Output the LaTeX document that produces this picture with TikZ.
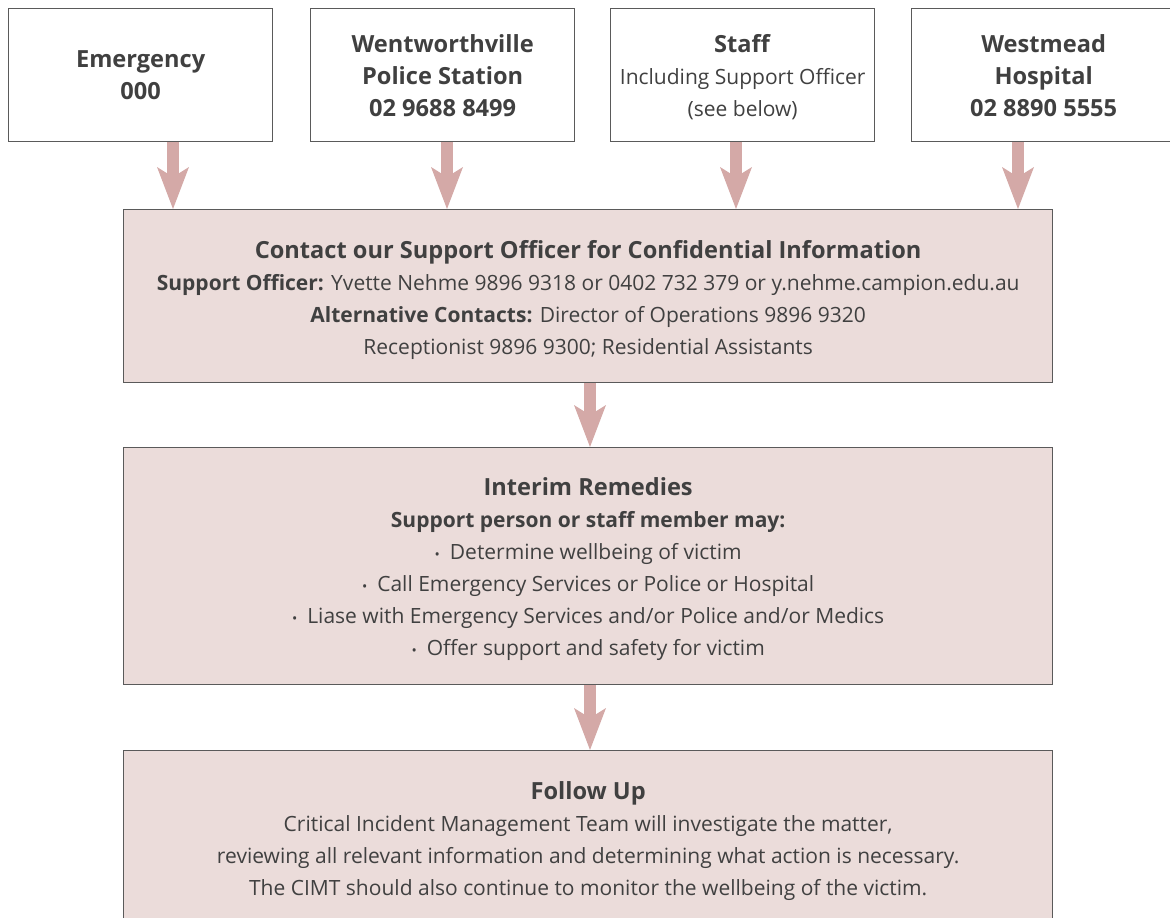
\documentclass[tikz,border=0pt]{standalone}
\usepackage{fontspec}
\setmainfont{Open Sans}
\usetikzlibrary{arrows.meta,calc}
\definecolor{txt}{HTML}{404040}
\definecolor{bordc}{HTML}{5A5A5A}
\definecolor{fillc}{HTML}{EBDCDA}
\definecolor{arrc}{HTML}{D4A9A7}
\newcommand{\ttl}[2]{\rule{0pt}{#1}{\fontsize{23.6}{33}\selectfont\bfseries #2}}
\newcommand{\bul}{{\fontsize{14}{32}\selectfont\textbullet}\hspace{10pt}}
\begin{document}
\begin{tikzpicture}[x=1pt,y=-1pt,
  base/.style={draw=bordc, line width=1.3pt, inner sep=0pt, align=center, text=txt,
    anchor=north west, font=\fontsize{21}{32}\selectfont},
  topbox/.style={base, fill=white, minimum width=264pt, minimum height=133pt,
    font=\fontsize{23.6}{32}\selectfont},
  bigbox/.style={base, fill=fillc, minimum width=929pt},
  arr/.style={draw=arrc, line width=12pt,
    -{Stealth[length=42pt,width=32pt,inset=10pt,line width=0pt]}}]
\useasboundingbox (0,0) rectangle (1170,918);
\clip (0,0) rectangle (1170,918);
\node[topbox] (emg) at (8,8) {\textbf{Emergency}\\\textbf{000}};
\node[topbox] (pol) at (310,8) {\textbf{Wentworthville}\\\textbf{Police Station}\\\textbf{02 9688 8499}};
\node[topbox] (stf) at (610,8) {\rule{0pt}{22pt}\textbf{Staff}\\{\fontsize{21}{32}\selectfont Including Support Officer}\\{\fontsize{21}{32}\selectfont (see below)}};
\node[topbox] (hos) at (911,8) {\textbf{Westmead}\\\textbf{Hospital}\\\textbf{02 8890 5555}};
\node[bigbox, minimum height=173pt] (con) at (123,209) {\ttl{25pt}{Contact our Support Officer for Confidential Information}\\
  \textbf{Support Officer:} Yvette Nehme 9896 9318 or 0402 732 379 or y.nehme.campion.edu.au\\
  \textbf{Alternative Contacts:} Director of Operations 9896 9320\\
  Receptionist 9896 9300; Residential Assistants};
\node[bigbox, minimum height=237pt] (int) at (123,447) {\ttl{24pt}{Interim Remedies}\\
  \textbf{Support person or staff member may:}\\
  \bul Determine wellbeing of victim\\
  \bul Call Emergency Services or Police or Hospital\\
  \bul Liase with Emergency Services and/or Police and/or Medics\\
  \bul Offer support and safety for victim};
\node[bigbox, minimum height=177pt] (fol) at (123,750) {\ttl{21pt}{Follow Up}\\
  Critical Incident Management Team will investigate the matter,\\
  reviewing all relevant information and determining what action is necessary.\\
  The CIMT should also continue to monitor the wellbeing of the victim.};
\coordinate (a1) at (173,0);
\coordinate (a2) at (447,0);
\coordinate (a3) at (736,0);
\coordinate (a4) at (1018,0);
\coordinate (a5) at (590,0);
\draw[arr] (emg.south -| a1) -- (con.north -| a1);
\draw[arr] (pol.south -| a2) -- (con.north -| a2);
\draw[arr] (stf.south -| a3) -- (con.north -| a3);
\draw[arr] (hos.south -| a4) -- (con.north -| a4);
\draw[arr] (con.south -| a5) -- (int.north -| a5);
\draw[arr] (int.south -| a5) -- (fol.north -| a5);
\end{tikzpicture}
\end{document}
